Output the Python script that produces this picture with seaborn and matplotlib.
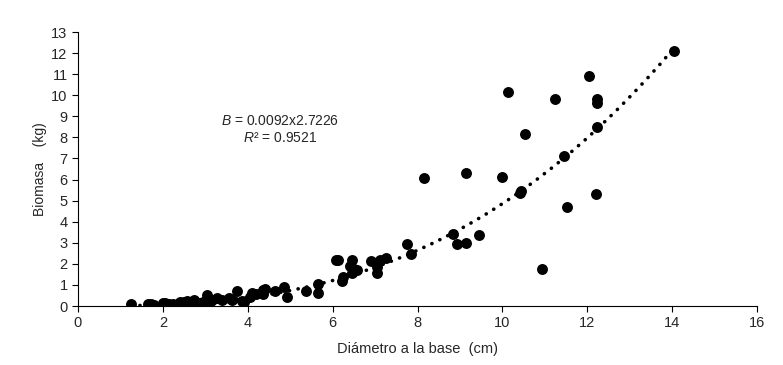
import matplotlib
matplotlib.use("Agg")
import matplotlib.pyplot as plt
import seaborn as sns
import pandas as pd
import numpy as np

# diameter at base (cm) and biomass (kg)
diametro = [1.25, 1.66, 1.72, 1.80, 2.00, 2.05, 2.10, 2.15, 2.25, 2.41, 2.50, 2.56, 2.65,
            2.74, 2.80, 2.84, 2.95, 3.05, 3.10, 3.15, 3.28, 3.40, 3.55, 3.63, 3.75, 3.86,
            3.90, 4.06, 4.10, 4.20, 4.36, 4.37, 4.41, 4.65, 4.85, 4.93, 5.38, 5.65, 5.65,
            6.07, 6.13, 6.22, 6.25, 6.40, 6.45, 6.45, 6.50, 6.58, 6.90, 7.04, 7.04, 7.12,
            7.25, 7.74, 7.85, 8.15, 8.84, 8.93, 9.14, 9.15, 9.45, 10.00, 10.14, 10.42,
            10.44, 10.54, 10.94, 11.24, 11.44, 11.53, 12.05, 12.20, 12.23, 12.23, 12.23,
            14.04]
biomasa = [0.10, 0.10, 0.08, 0.05, 0.15, 0.16, 0.10, 0.10, 0.08, 0.20, 0.20, 0.22, 0.20,
           0.28, 0.15, 0.16, 0.20, 0.52, 0.18, 0.30, 0.36, 0.30, 0.40, 0.28, 0.73, 0.25,
           0.20, 0.45, 0.60, 0.55, 0.76, 0.55, 0.79, 0.70, 0.89, 0.45, 0.71, 1.04, 0.60,
           2.18, 2.18, 1.20, 1.40, 1.90, 2.18, 1.58, 1.75, 1.70, 2.15, 1.83, 1.55, 2.18,
           2.30, 2.92, 2.47, 6.06, 3.42, 2.94, 6.30, 3.00, 3.37, 6.12, 10.15, 5.35,
           5.46, 8.15, 1.74, 9.82, 7.12, 4.68, 10.90, 5.30, 9.82, 9.62, 8.48,
           12.08]

# power trend line shown on the chart
coef_a = 0.0092
coef_b = 2.7226
r2 = 0.9521

df = pd.DataFrame({"diametro": diametro, "biomasa": biomasa})

sns.set_style("ticks")
plt.rcParams["font.family"] = ["Liberation Sans", "DejaVu Sans"]
plt.rcParams["mathtext.fontset"] = "custom"
plt.rcParams["mathtext.rm"] = "Liberation Sans"
plt.rcParams["mathtext.it"] = "Liberation Sans:italic"

fig = plt.figure(figsize=(7.83, 3.65), dpi=100)
ax = fig.add_axes([0.0996, 0.1616, 0.8674, 0.7507])

xs = np.linspace(min(diametro), max(diametro), 200)
ax.plot(xs, coef_a * xs ** coef_b, color="black", linewidth=2.6,
        linestyle=(0, (0.05, 2.4)), dash_capstyle="round", zorder=2)

sns.scatterplot(data=df, x="diametro", y="biomasa", ax=ax, color="black",
                s=62, edgecolor="black", linewidth=0, zorder=3)

ax.set_xlim(0, 16)
ax.set_ylim(0, 13)
ax.set_xticks(range(0, 17, 2))
ax.set_yticks(range(0, 14, 1))
ax.tick_params(labelsize=10.5, length=4, width=0.8, color="black", direction="out")
for side in ["top", "right"]:
    ax.spines[side].set_visible(False)
for side in ["left", "bottom"]:
    ax.spines[side].set_linewidth(0.8)
    ax.spines[side].set_color("black")

ax.set_xlabel("Diámetro a la base  (cm)", fontsize=10.5, labelpad=8)
ax.set_ylabel("Biomasa    (kg)", fontsize=10, labelpad=3)

ax.text(4.77, 8.78, r"$B$ = " + f"{coef_a}x{coef_b}", ha="center", va="center", fontsize=10)
ax.text(4.77, 7.97, r"$R$² = " + f"{r2}", ha="center", va="center", fontsize=10)

fig.savefig("out.png", dpi=100)
